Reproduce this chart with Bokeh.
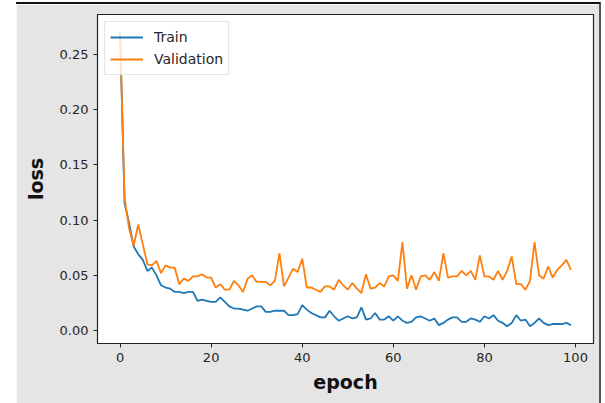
from bokeh.plotting import figure
from bokeh.models import Range1d, FixedTicker, NumeralTickFormatter, Legend, LegendItem, Spacer
from bokeh.layouts import row, column
from bokeh.embed import file_html
from bokeh.resources import INLINE

epochs = list(range(100))
train_loss = [
    0.270, 0.115, 0.097, 0.076, 0.069, 0.064, 0.054, 0.057, 0.050, 0.041,
    0.039, 0.038, 0.035, 0.035, 0.034, 0.035, 0.035, 0.027, 0.028, 0.027,
    0.026, 0.026, 0.030, 0.026, 0.022, 0.020, 0.020, 0.019, 0.018, 0.020,
    0.022, 0.022, 0.017, 0.017, 0.018, 0.018, 0.018, 0.014, 0.014, 0.015,
    0.023, 0.019, 0.016, 0.014, 0.012, 0.012, 0.018, 0.013, 0.009, 0.011,
    0.013, 0.011, 0.012, 0.021, 0.010, 0.011, 0.016, 0.010, 0.010, 0.013,
    0.009, 0.013, 0.009, 0.007, 0.008, 0.012, 0.013, 0.011, 0.009, 0.011,
    0.005, 0.007, 0.010, 0.012, 0.012, 0.008, 0.008, 0.011, 0.010, 0.008,
    0.013, 0.011, 0.014, 0.009, 0.007, 0.004, 0.007, 0.014, 0.009, 0.010,
    0.004, 0.007, 0.011, 0.007, 0.005, 0.006, 0.006, 0.006, 0.007, 0.005,
]
val_loss = [
    0.269, 0.120, 0.092, 0.077, 0.096, 0.078, 0.060, 0.059, 0.063, 0.052,
    0.059, 0.057, 0.057, 0.042, 0.047, 0.045, 0.049, 0.049, 0.051, 0.048,
    0.048, 0.039, 0.042, 0.037, 0.037, 0.045, 0.041, 0.035, 0.047, 0.050,
    0.044, 0.044, 0.044, 0.041, 0.045, 0.070, 0.040, 0.048, 0.056, 0.053,
    0.065, 0.039, 0.039, 0.037, 0.035, 0.040, 0.040, 0.037, 0.046, 0.041,
    0.037, 0.043, 0.038, 0.034, 0.051, 0.038, 0.039, 0.043, 0.040, 0.049,
    0.050, 0.045, 0.080, 0.038, 0.050, 0.037, 0.049, 0.050, 0.046, 0.053,
    0.045, 0.070, 0.048, 0.049, 0.049, 0.054, 0.050, 0.054, 0.046, 0.068,
    0.049, 0.049, 0.046, 0.054, 0.046, 0.054, 0.067, 0.042, 0.042, 0.037,
    0.045, 0.080, 0.050, 0.047, 0.058, 0.048, 0.055, 0.059, 0.064, 0.055,
]
x_ticks = [0, 20, 40, 60, 80, 100]
y_ticks = [0.0, 0.05, 0.10, 0.15, 0.20, 0.25]

GRAY = "#e5e5e5"
FONT = "DejaVu Sans"

p = figure(
    frame_width=494, frame_height=327,
    min_border_left=81, min_border_right=8, min_border_top=10, min_border_bottom=62,
    x_range=Range1d(-4.95, 103.95), y_range=Range1d(-0.0116, 0.2857),
    output_backend="svg", toolbar_location=None,
    background_fill_color="white", border_fill_color=GRAY,
)
p.styles = {"border-top": "2px solid #111111", "border-right": "2px solid #555555"}
p.grid.visible = False
p.outline_line_color = "#222222"
p.outline_line_width = 1.2

r_train = p.line(epochs, train_loss, line_color="#1f77b4", line_width=1.8)
r_val = p.line(epochs, val_loss, line_color="#ff7f0e", line_width=1.8)

for ax in (p.xaxis[0], p.yaxis[0]):
    ax.axis_line_color = "#222222"
    ax.major_tick_line_color = "#222222"
    ax.major_tick_out = 4
    ax.major_tick_in = 0
    ax.minor_tick_line_color = None
    ax.major_label_text_font = FONT
    ax.major_label_text_font_size = "13px"
    ax.major_label_text_color = "#262626"
    ax.major_label_standoff = 5
    ax.axis_label_text_font = FONT
    ax.axis_label_text_font_size = "19px"
    ax.axis_label_text_font_style = "bold"
    ax.axis_label_text_color = "#111111"

p.xaxis.ticker = FixedTicker(ticks=x_ticks)
p.yaxis.ticker = FixedTicker(ticks=y_ticks)
p.yaxis.formatter = NumeralTickFormatter(format="0.00")
p.xaxis.axis_label = "epoch"
p.yaxis.axis_label = "loss"
p.xaxis.axis_label_standoff = 6
p.yaxis.axis_label_standoff = 10

legend = Legend(
    items=[LegendItem(label="Train", renderers=[r_train]),
           LegendItem(label="Validation", renderers=[r_val])],
    location="top_left",
    margin=7, padding=5, spacing=2,
    glyph_width=33, glyph_height=20, label_height=20, label_standoff=11,
    label_text_font=FONT, label_text_font_size="14px", label_text_color="#262626",
    border_line_color="#cccccc", border_line_width=1,
    background_fill_color="white", background_fill_alpha=0.8,
)
p.add_layout(legend)

layout = row(Spacer(width=16, height=10), column(Spacer(width=10, height=2), p))

open("out.html", "w").write(file_html(layout, INLINE))
